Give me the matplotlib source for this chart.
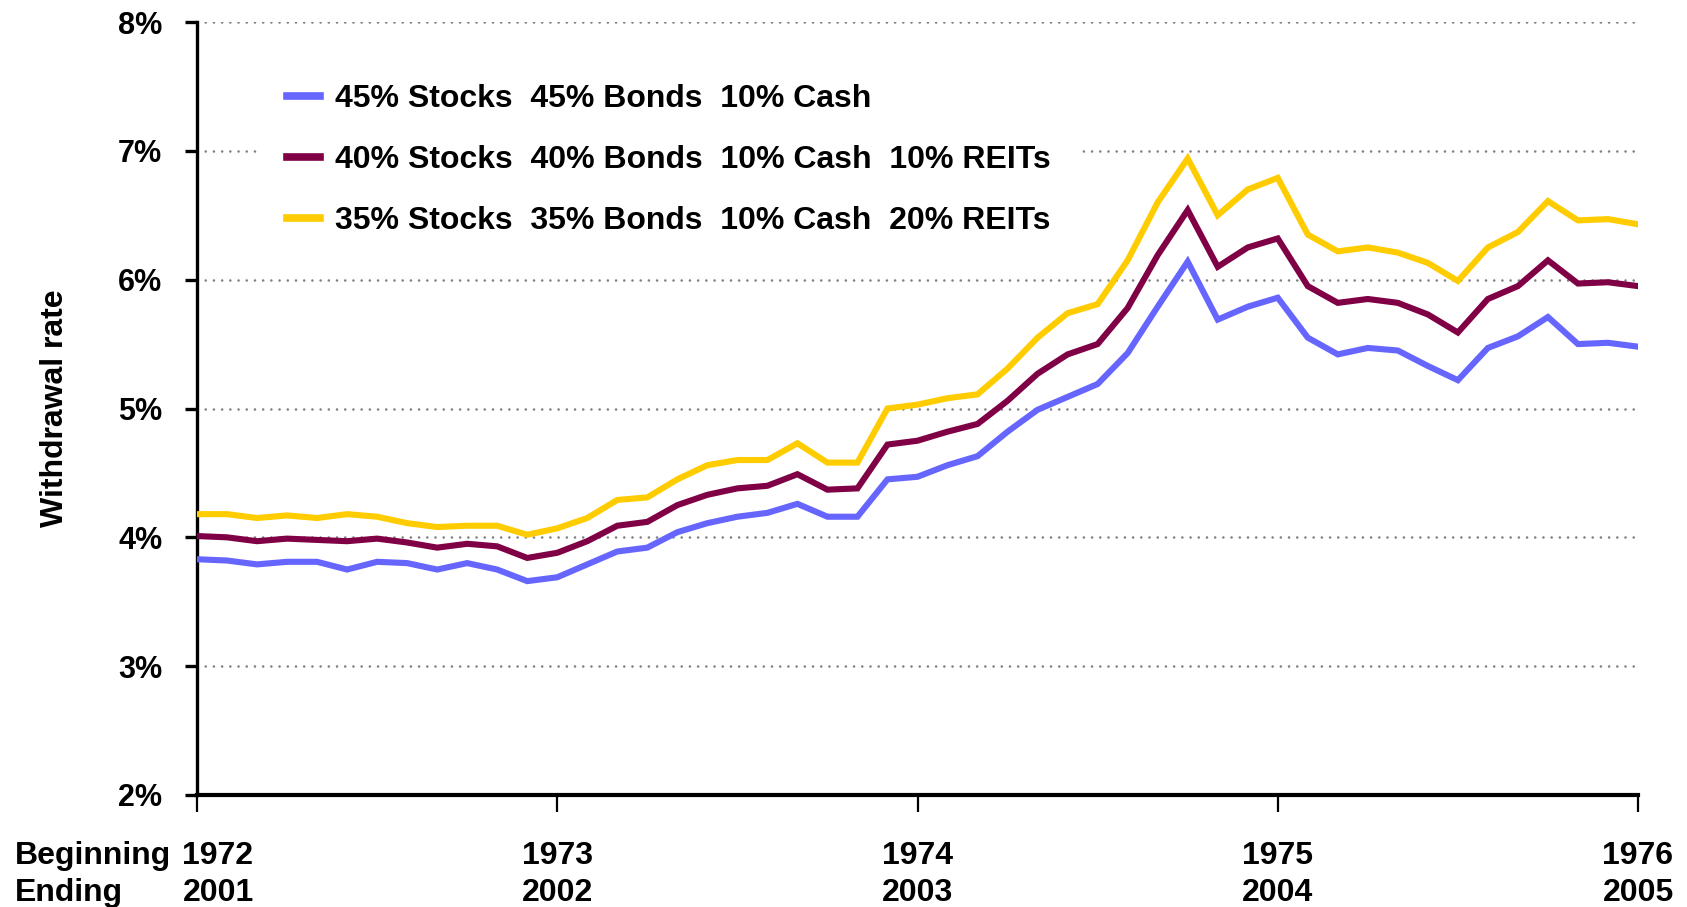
import matplotlib
matplotlib.use("Agg")
import matplotlib.pyplot as plt
import numpy as np

plt.rcParams['font.family'] = ['Liberation Sans', 'DejaVu Sans']
plt.rcParams['font.weight'] = 'bold'

# ---- data (monthly, Jan 1972 .. Jan 1976) ----
start_year = 1972
months = 49
years = np.array([1972, 1973, 1974, 1975, 1976])
ending_years = ['2001', '2002', '2003', '2004', '2005']
tick_labels_begin = ['1972', '1973', '1974', '1975', '1976']

labels = ['45% Stocks  45% Bonds  10% Cash',
          '40% Stocks  40% Bonds  10% Cash  10% REITs',
          '35% Stocks  35% Bonds  10% Cash  20% REITs']
colors = ['#6666FF', '#800046', '#FFCC00']

s45 = [3.83, 3.82, 3.79, 3.81, 3.81, 3.75, 3.81, 3.80, 3.75, 3.80, 3.75, 3.66,
       3.69, 3.79, 3.89, 3.92, 4.04, 4.11, 4.16, 4.19, 4.26, 4.16, 4.16, 4.45,
       4.47, 4.56, 4.63, 4.82, 4.99, 5.09, 5.19, 5.43, 5.79, 6.14, 5.69, 5.79,
       5.86, 5.55, 5.42, 5.47, 5.45, 5.33, 5.22, 5.47, 5.56, 5.71, 5.50, 5.51,
       5.48]
s40 = [4.01, 4.00, 3.97, 3.99, 3.98, 3.97, 3.99, 3.96, 3.92, 3.95, 3.93, 3.84,
       3.88, 3.97, 4.09, 4.12, 4.25, 4.33, 4.38, 4.40, 4.49, 4.37, 4.38, 4.72,
       4.75, 4.82, 4.88, 5.06, 5.27, 5.42, 5.50, 5.78, 6.19, 6.54, 6.10, 6.25,
       6.32, 5.95, 5.82, 5.85, 5.82, 5.73, 5.59, 5.85, 5.95, 6.15, 5.97, 5.98,
       5.95]
s35 = [4.18, 4.18, 4.15, 4.17, 4.15, 4.18, 4.16, 4.11, 4.08, 4.09, 4.09, 4.02,
       4.07, 4.15, 4.29, 4.31, 4.45, 4.56, 4.60, 4.60, 4.73, 4.58, 4.58, 5.00,
       5.03, 5.08, 5.11, 5.31, 5.55, 5.74, 5.81, 6.15, 6.60, 6.94, 6.50, 6.70,
       6.79, 6.35, 6.22, 6.25, 6.21, 6.13, 5.99, 6.25, 6.37, 6.61, 6.46, 6.47,
       6.43]
series = [s45, s40, s35]

x = start_year + np.arange(months) / 12.0

W, H = 1687, 907
fig = plt.figure(figsize=(W / 100, H / 100), dpi=100)
ax_l, ax_r, ax_t, ax_b = 197, 1638, 22, 795
ax = fig.add_axes([ax_l / W, 1 - ax_b / H, (ax_r - ax_l) / W, (ax_b - ax_t) / H])

for ys, c, lab in zip(series, colors, labels):
    ax.plot(x, ys, color=c, lw=4.4, label=lab, solid_joinstyle='miter', zorder=3)

ax.set_xlim(1972, 1976)
ax.set_ylim(2, 8)
ax.set_yticks([2, 3, 4, 5, 6, 7, 8])
ax.set_yticklabels([f'{v}%' for v in range(2, 9)], fontsize=22, fontweight='bold')
ax.set_xticks(years)
ax.set_xticklabels([])

ax.yaxis.grid(True, color='#808080', lw=1.9, linestyle=(0, (0.01, 3.1)),
              dash_capstyle='round')
ax.set_axisbelow(True)

for s in ['top', 'right']:
    ax.spines[s].set_visible(False)
ax.spines['left'].set_linewidth(2.4)
ax.spines['bottom'].set_linewidth(3.0)
ax.tick_params(axis='y', direction='out', length=9, width=2.4, pad=16)
ax.tick_params(axis='x', direction='out', length=12.5, width=1.6)

# two-line x labels
ax_h = ax_b - ax_t
y1 = (ax_b - 856) / ax_h
y2 = (ax_b - 893) / ax_h
trans = ax.get_xaxis_transform()
for i, (yr, b, e) in enumerate(zip(years, tick_labels_begin, ending_years)):
    dx = 21 / (ax_r - ax_l) * 4 if i == 0 else 0
    ax.text(yr + dx, y1, b, transform=trans, ha='center', va='center',
            fontsize=23, fontweight='bold')
    ax.text(yr + dx, y2, e, transform=trans, ha='center', va='center',
            fontsize=23, fontweight='bold')
fig.text(15 / W, 1 - 856 / H, 'Beginning', ha='left', va='center',
         fontsize=23, fontweight='bold')
fig.text(15 / W, 1 - 893 / H, 'Ending', ha='left', va='center',
         fontsize=23, fontweight='bold')

fig.text(55 / W, 1 - 408 / H, 'Withdrawal rate', rotation=90, ha='center',
         va='center', fontsize=23, fontweight='bold')

leg = ax.legend(loc='upper left', bbox_to_anchor=((258 - ax_l) / (ax_r - ax_l), (ax_b - 55) / ax_h),
                borderaxespad=0, frameon=True, fancybox=False,
                facecolor='white', edgecolor='none', framealpha=1,
                handlelength=1.05, handletextpad=0.45, labelspacing=0.97,
                borderpad=0.9, prop={'weight': 'bold', 'size': 23})
for h in leg.get_lines():
    h.set_linewidth(5.5)

fig.savefig('out.png', dpi=100)
